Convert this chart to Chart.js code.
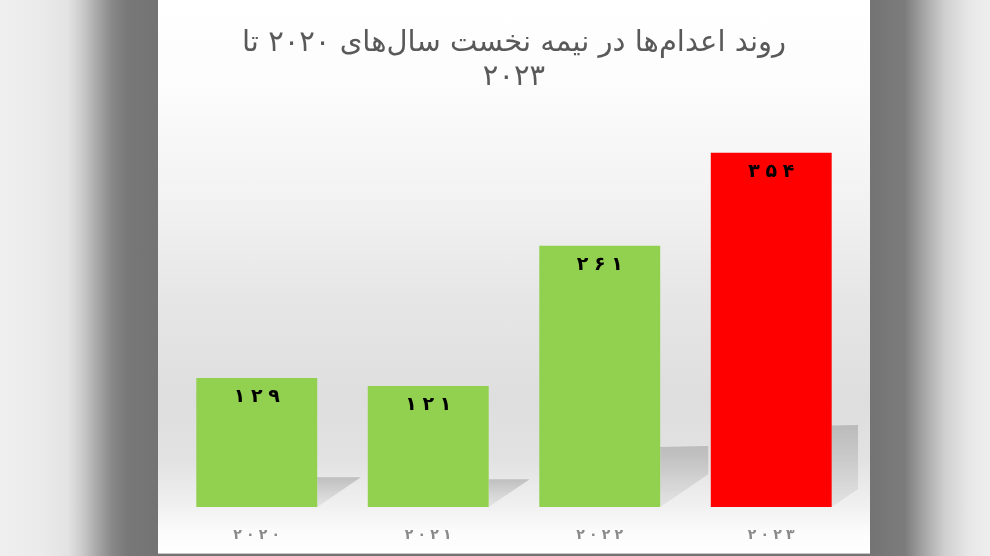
<!DOCTYPE html>
<html>
<head>
<meta charset="utf-8">
<script src="https://cdn.jsdelivr.net/npm/chart.js@4/dist/chart.umd.min.js"></script>
<style>
  html, body { margin: 0; padding: 0; }
  body {
    width: 990px; height: 556px; overflow: hidden; position: relative;
    background: linear-gradient(to right,
      #efefef 0px, #ebebeb 40px, #e3e3e3 68px, #cbcbcb 82px, #a8a8a8 97px,
      #888888 112px, #787878 127px, #737373 158px,
      #747474 871px, #7c7c7c 905px, #a8a8a8 925px, #d0d0d0 945px, #e8e8e8 970px, #eeeeee 990px);
  }
  #panel {
    position: absolute; left: 158px; top: 0; width: 712px; height: 553px;
    border-bottom: 1px solid #c8c8c8;
    background: linear-gradient(to bottom,
      #ffffff 0px, #fcfcfc 90px, #f2f2f2 200px, #e6e6e6 300px, #dedede 400px,
      #e2e2e2 460px, #f0f0f0 505px, #fbfbfb 530px, #ffffff 553px);
  }
  canvas { display: block; }
</style>
</head>
<body>
<div id="panel"><canvas id="c" width="712" height="553"></canvas></div>
<script>
const titleLines = ['روند اعدام‌ها در نیمه نخست سال‌های ۲۰۲۰ تا', '۲۰۲۳'];
const categories = ['۲۰۲۰', '۲۰۲۱', '۲۰۲۲', '۲۰۲۳'];
const executions = [129, 121, 261, 354];
const barColors = ['#92D050', '#92D050', '#92D050', '#FF0000'];
const yMin = 0;
const yMax = 400;

const FONT = "'DejaVu Sans', sans-serif";
const toFa = v => String(v).replace(/\d/g, d => '۰۱۲۳۴۵۶۷۸۹'[d]);
const spaced = s => s.split('').join('\u2009\u200A');

const shadowPlugin = {
  id: 'barShadow',
  beforeDatasetsDraw(chart) {
    const ctx = chart.ctx;
    const meta = chart.getDatasetMeta(0);
    const area = chart.chartArea;
    ctx.save();
    ctx.beginPath();
    ctx.rect(area.left - 20, area.top, area.right - area.left + 21, area.bottom - area.top);
    ctx.clip();
    meta.data.forEach(el => {
      const xr = el.x + el.width / 2;
      const base = el.base;
      const h = base - el.y;
      const sh = h * 0.23;
      const w = 48, slope = 0.68;
      const g = ctx.createLinearGradient(0, base - sh, 0, base);
      g.addColorStop(0, 'rgba(150,150,150,0.5)');
      g.addColorStop(1, 'rgba(190,190,190,0.25)');
      ctx.fillStyle = g;
      ctx.beginPath();
      if (sh < slope * w) {
        ctx.moveTo(xr, base - sh);
        ctx.lineTo(xr + sh / slope, base - sh);
        ctx.lineTo(xr, base);
      } else {
        ctx.moveTo(xr, base - sh);
        ctx.lineTo(xr + w, base - sh - 1);
        ctx.lineTo(xr + w, base - slope * w);
        ctx.lineTo(xr, base);
      }
      ctx.closePath();
      ctx.fill();
    });
    ctx.restore();
  }
};

const valueLabelPlugin = {
  id: 'valueLabels',
  afterDatasetsDraw(chart) {
    const ctx = chart.ctx;
    const meta = chart.getDatasetMeta(0);
    ctx.save();
    ctx.font = 'bold 19px ' + FONT;
    ctx.fillStyle = '#000000';
    ctx.textAlign = 'center';
    ctx.textBaseline = 'middle';
    meta.data.forEach((el, i) => {
      ctx.fillText(spaced(toFa(executions[i])), el.x, el.y + 19);
    });
    ctx.restore();
  }
};

new Chart(document.getElementById('c'), {
  type: 'bar',
  data: {
    labels: categories,
    datasets: [{
      data: executions,
      backgroundColor: barColors,
      borderWidth: 0,
      barPercentage: 0.705,
      categoryPercentage: 1.0
    }]
  },
  options: {
    responsive: false,
    animation: false,
    layout: { padding: { left: 13, right: 13, top: 0, bottom: 0 } },
    plugins: {
      legend: { display: false },
      tooltip: { enabled: false },
      title: {
        display: true,
        text: titleLines,
        color: '#595959',
        font: { family: FONT, size: 29, weight: 'normal', lineHeight: 1.15 },
        padding: { top: 27, bottom: 13 }
      }
    },
    scales: {
      x: {
        grid: { display: false, drawTicks: false },
        border: { display: false },
        ticks: {
          color: '#8a8a8a',
          font: { family: FONT, size: 14, weight: 'bold' },
          padding: 20,
          callback: function (val) {
            return spaced(this.getLabelForValue(val));
          }
        },
        afterFit: s => { s.height = 46; }
      },
      y: { display: false, min: yMin, max: yMax }
    }
  },
  plugins: [shadowPlugin, valueLabelPlugin]
});
</script>
</body>
</html>
